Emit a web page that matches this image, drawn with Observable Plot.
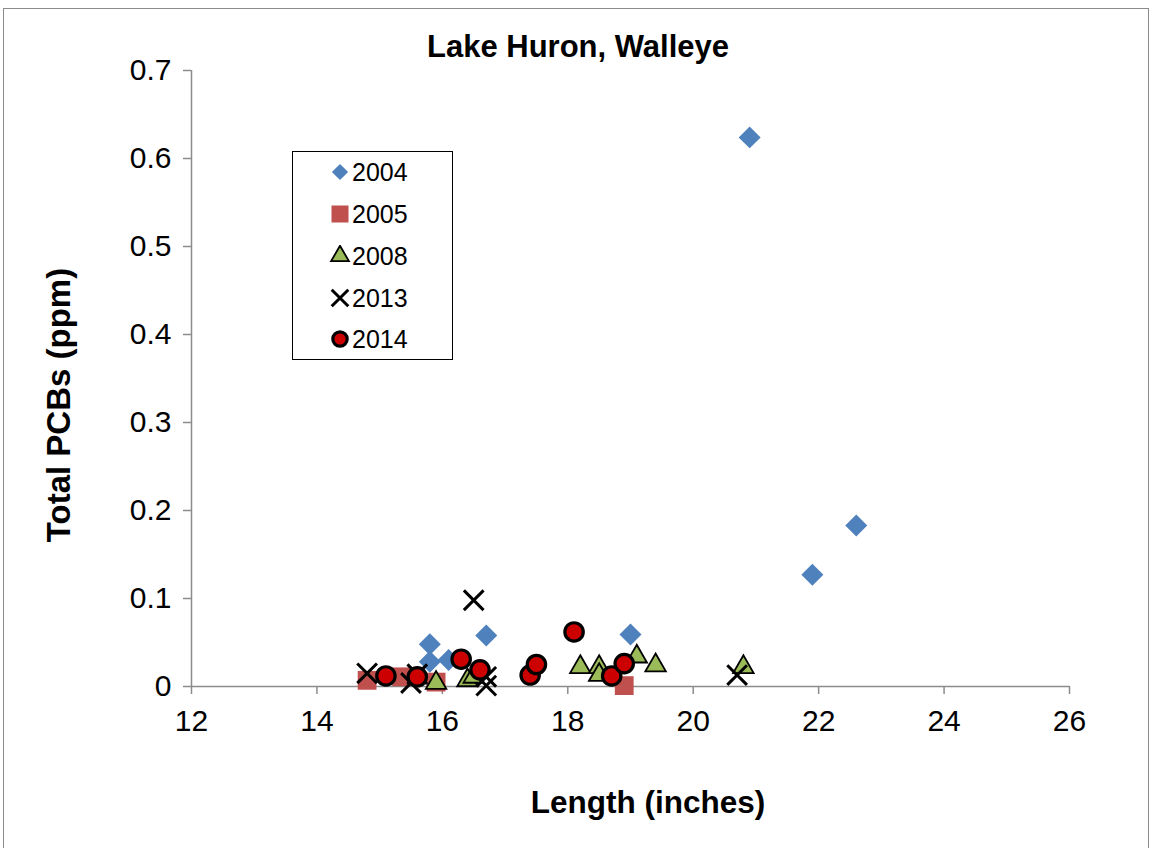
<!DOCTYPE html>
<html>
<head>
<meta charset="utf-8">
<script src="https://cdn.jsdelivr.net/npm/d3@7"></script>
<script src="https://cdn.jsdelivr.net/npm/@observablehq/plot@0.6"></script>
<style>
  body { margin: 0; background: #fff; font-family: "Liberation Sans", Arial, sans-serif; }
  #wrap { position: relative; width: 1156px; height: 848px; overflow: hidden; }
  #border { position: absolute; left: 3px; top: 8px; width: 1146px; height: 860px; border: 1px solid #8c8c8c; box-sizing: border-box; }
  #chart { position: absolute; left: 0; top: 0; }
  .lbl { position: absolute; font-weight: bold; color: #000; white-space: nowrap; line-height: 1; }
  #title { left: 0; width: 1156px; text-align: center; top: 31px; font-size: 31px; }
  #xlab { left: 448px; width: 400px; text-align: center; top: 787px; font-size: 31.5px; }
  #ylab { left: 58px; top: 405px; font-size: 33px; transform: translate(-50%, -50%) rotate(-90deg); }
  #legend { position: absolute; left: 292px; top: 151px; width: 161px; height: 209px; border: 1.5px solid #000; box-sizing: border-box; background: #fff; }
  .item { position: absolute; left: 36px; height: 26px; font-size: 25px; display: flex; align-items: center; line-height: 1; }
  .item svg { margin-right: 1px; }
</style>
</head>
<body>
<div id="wrap">
  <div id="border"></div>
  <div id="chart"></div>
  <div class="lbl" id="title">Lake Huron, Walleye</div>
  <div class="lbl" id="xlab">Length (inches)</div>
  <div class="lbl" id="ylab">Total PCBs (ppm)</div>
  <div id="legend"></div>
</div>
<script>
// Data (length in inches, total PCBs in ppm)
const x2004 = [20.9, 22.6, 21.9, 19.0, 16.7, 15.8, 15.8, 16.1];
const y2004 = [0.624, 0.183, 0.127, 0.059, 0.058, 0.048, 0.028, 0.030];
const x2005 = [14.8, 15.35, 15.9, 18.9];
const y2005 = [0.007, 0.011, 0.005, 0.001];
const x2008 = [15.9, 16.4, 16.5, 18.2, 18.5, 18.5, 19.1, 19.4, 20.8];
const y2008 = [0.004, 0.007, 0.011, 0.022, 0.022, 0.013, 0.034, 0.024, 0.022];
const x2013 = [14.8, 15.5, 15.6, 16.5, 16.7, 16.7, 20.7];
const y2013 = [0.015, 0.004, 0.014, 0.098, 0.001, 0.011, 0.013];
const x2014 = [15.1, 15.6, 16.3, 16.6, 17.4, 17.5, 18.1, 18.7, 18.9];
const y2014 = [0.012, 0.011, 0.031, 0.019, 0.013, 0.025, 0.062, 0.012, 0.026];
const years = ["2004", "2005", "2008", "2013", "2014"];
const xTicks = [12, 14, 16, 18, 20, 22, 24, 26];
const yTicks = [0, 0.1, 0.2, 0.3, 0.4, 0.5, 0.6, 0.7];

const pts = (xs, ys) => xs.map((x, i) => ({x, y: ys[i]}));

const styles = {
  "2004": {symbol: "diamond2", r: 9.9, fill: "#4F81BD", stroke: "none", strokeWidth: 0, lr: 7.3},
  "2005": {symbol: "square", r: 10.6, fill: "#C0504D", stroke: "none", strokeWidth: 0, lr: 9.6},
  "2008": {symbol: "triangle", r: 7.6, fill: "#9BBB59", stroke: "#000", strokeWidth: 1.8, lr: 6.6},
  "2013": {symbol: "times", r: 9.0, fill: "none", stroke: "#000", strokeWidth: 3, lr: 7.6},
  "2014": {symbol: "circle", r: 9.2, fill: "#CC0000", stroke: "#000", strokeWidth: 3.2, lr: 7.2}
};
const d3Symbols = {
  diamond2: d3.symbolDiamond2, square: d3.symbolSquare, triangle: d3.symbolTriangle,
  times: d3.symbolTimes, circle: d3.symbolCircle
};
const series = {
  "2004": pts(x2004, y2004),
  "2005": pts(x2005, y2005),
  "2008": pts(x2008, y2008),
  "2013": pts(x2013, y2013),
  "2014": pts(x2014, y2014)
};

const plot = Plot.plot({
  width: 1156,
  height: 848,
  marginLeft: 191,
  marginRight: 87,
  marginTop: 70,
  marginBottom: 162,
  style: {fontFamily: "Liberation Sans, Arial, sans-serif", fontSize: "30px", color: "#000", background: "transparent"},
  x: {domain: [12, 26], ticks: xTicks},
  y: {domain: [0, 0.7], ticks: yTicks},
  marks: [
    Plot.axisX({ticks: xTicks, tickSize: 8, tickPadding: 15, stroke: "#8c8c8c", strokeWidth: 1.5, label: null, fontSize: 30, tickFormat: d => String(d)}),
    Plot.axisY({ticks: yTicks, tickSize: 8, tickPadding: 12, stroke: "#8c8c8c", strokeWidth: 1.5, label: null, fontSize: 30, tickFormat: d => String(+d.toFixed(1))}),
    Plot.ruleY([0], {stroke: "#8c8c8c", strokeWidth: 1.5}),
    Plot.ruleX([12], {stroke: "#8c8c8c", strokeWidth: 1.5}),
    ...years.map(yr => Plot.dot(series[yr], {x: "x", y: "y", symbol: styles[yr].symbol, r: styles[yr].r, fill: styles[yr].fill, stroke: styles[yr].stroke, strokeWidth: styles[yr].strokeWidth}))
  ]
});
document.getElementById("chart").appendChild(plot);

// Legend
const legend = document.getElementById("legend");
const rows = [20, 62, 104, 146, 187];
years.forEach((yr, i) => {
  const s = styles[yr];
  const item = document.createElement("div");
  item.className = "item";
  item.style.top = (rows[i] - 13) + "px";
  const svg = d3.create("svg").attr("width", 22).attr("height", 22);
  svg.append("path")
    .attr("transform", "translate(11,11)")
    .attr("d", d3.symbol(d3Symbols[s.symbol], Math.PI * s.lr * s.lr)())
    .attr("fill", s.fill)
    .attr("stroke", s.stroke)
    .attr("stroke-width", s.strokeWidth);
  item.appendChild(svg.node());
  const t = document.createElement("span");
  t.textContent = yr;
  item.appendChild(t);
  legend.appendChild(item);
});
</script>
</body>
</html>
